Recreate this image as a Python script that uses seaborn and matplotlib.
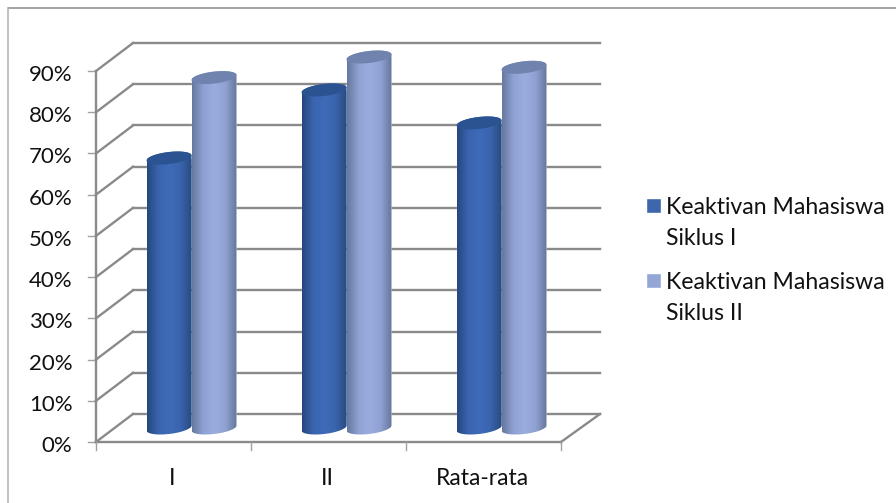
import matplotlib
matplotlib.use("Agg")
import matplotlib.pyplot as plt
import numpy as np
import pandas as pd
import seaborn as sns
from matplotlib.colors import LinearSegmentedColormap
from matplotlib.lines import Line2D
from matplotlib.patches import Polygon
from matplotlib.transforms import ScaledTranslation

# Student activity per cycle, in percent
categories = ["I", "II", "Rata-rata"]
series_names = ["Keaktivan Mahasiswa\nSiklus I", "Keaktivan Mahasiswa\nSiklus II"]
siklus_1 = [65.5, 82, 74]
siklus_2 = [85, 90, 87.5]
y_ticks = list(range(0, 100, 10))

GRID = "#8a8a8a"
TICK = "#a0a0a0"
TEXT = "#111111"
BAR_SHADES = [
    ["#25477f", "#3a64ad", "#3e6bb9", "#3a64ad", "#284a80"],
    ["#66789f", "#8ea2d2", "#9aacde", "#8fa2d2", "#66769c"],
]
TOP_SHADES = ["#2b5391", "#7083af"]
LEGEND_COLORS = ["#3e66ab", "#94a6d6"]

sns.set_theme(style="white")
plt.rcParams["font.family"] = ["Lato", "DejaVu Sans"]

W, H = 896, 503
fig = plt.figure(figsize=(W / 100, H / 100), dpi=100, facecolor="white")
# The axes sit on the mid-depth plane of the 3-D box
ax = fig.add_axes([114 / W, 1 - 428 / H, 465 / W, 371 / H])
ax.patch.set_visible(False)

df = pd.DataFrame({
    "kategori": categories * 2,
    "nilai": siklus_1 + siklus_2,
    "siklus": [series_names[0]] * 3 + [series_names[1]] * 3,
})
sns.barplot(data=df, x="kategori", y="nilai", hue="siklus", order=categories,
            hue_order=series_names, palette=LEGEND_COLORS, width=0.58, gap=0,
            saturation=1, dodge=True, ax=ax, zorder=3)

ax.set_xlim(-0.5, 2.5)
ax.set_ylim(0, 90)
ax.set_xlabel("")
ax.set_ylabel("")
for s in ax.spines.values():
    s.set_visible(False)

# Box geometry in data units: front and back edges around the mid-depth plane
px_x = 3 / 465
px_y = 90 / 371
dy = 14 * px_y
front_l, back_l = -0.5 - 18 * px_x, -0.5 + 19 * px_x
front_r, back_r = 2.5 - 18 * px_x, 2.5 + 21 * px_x


def box_line(xs, ys, lw=1.7, color=GRID):
    ax.plot(xs, ys, color=color, lw=lw, clip_on=False, zorder=1,
            solid_capstyle="projecting")


# Walls and floor
for v in y_ticks:
    box_line([front_l, back_l], [v - dy, v + dy])
    box_line([back_l, back_r], [v + dy, v + dy])
    box_line([front_l - 8 * px_x, front_l], [v - dy, v - dy], lw=1.0, color=TICK)
box_line([front_l, front_l], [-dy, 90 - dy])
box_line([front_l, front_r], [-dy, -dy])
box_line([front_r, back_r], [-dy, dy])
for i in range(4):
    xt = front_l + i * (front_r - front_l) / 3
    box_line([xt, xt], [-dy, -dy - 8 * px_y], lw=1.0, color=TICK)

# Real tick labels, shifted onto the front edge of the box
ax.set_xticks(range(3), categories)
ax.set_yticks(y_ticks, [f"{v}%" for v in y_ticks])
ax.tick_params(axis="both", length=0, labelcolor=TEXT)
ax.tick_params(axis="x", pad=28.5, labelsize=16.5)
ax.tick_params(axis="y", pad=30, labelsize=16)
for lab in ax.get_yticklabels():
    lab.set_transform(lab.get_transform() + ScaledTranslation(0, -16 / 100, fig.dpi_scale_trans))
for lab in ax.get_xticklabels():
    lab.set_transform(lab.get_transform() + ScaledTranslation(-19 / 100, 0, fig.dpi_scale_trans))

# Turn each flat bar into a shaded cylinder
semi_b = 6 * px_y
tilt = 2.5 * px_y
theta = np.linspace(0, 2 * np.pi, 121)
for s_idx, container in enumerate(ax.containers):
    cmap = LinearSegmentedColormap.from_list(f"cyl{s_idx}", BAR_SHADES[s_idx])
    for bar in container:
        left, width, height = bar.get_x(), bar.get_width(), bar.get_height()
        cx, a = left + width / 2, width / 2
        t_low = np.linspace(np.pi, 2 * np.pi, 60)
        t_up = np.linspace(0, np.pi, 60)
        bx = cx + a * np.cos(t_low)
        by = semi_b * np.sin(t_low) + tilt * np.cos(t_low)
        tx = cx + a * np.cos(t_up)
        ty = height + semi_b * np.sin(t_up) + tilt * np.cos(t_up)
        outline = Polygon(np.column_stack([np.r_[bx, tx], np.r_[by, ty]]),
                          closed=True, transform=ax.transData)
        bar.set_clip_path(outline)
        img = ax.imshow(np.linspace(0, 1, 128)[None, :], cmap=cmap, aspect="auto",
                        extent=(left, left + width, -3 * semi_b, height + 3 * semi_b),
                        zorder=3 + s_idx, interpolation="bilinear")
        img.set_clip_box(fig.bbox)
        img.set_clip_path(outline)
        cap = Polygon(np.column_stack([cx + a * np.cos(theta),
                                       height + semi_b * np.sin(theta) + tilt * np.cos(theta)]),
                      closed=True, facecolor=TOP_SHADES[s_idx], edgecolor="none",
                      zorder=3 + s_idx, clip_on=False)
        ax.add_patch(cap)
ax.set_xlim(-0.5, 2.5)
ax.set_ylim(0, 90)

# Legend beside the box, each swatch level with the first line of its label
leg = ax.legend(loc="upper left", bbox_to_anchor=(646 / W, 1 - 197 / H),
                bbox_transform=fig.transFigure, frameon=False, fontsize=16.6,
                handlelength=0.65, handleheight=0.65, handletextpad=0.2,
                labelspacing=0.97, borderpad=0, borderaxespad=0)
for t in leg.get_texts():
    t.set_color(TEXT)
    t.set_linespacing(1.6)
for h in leg.legend_handles:
    h.set_y(h.get_y() + 12.8)

# Chart frame: only its top and left edges are drawn
fig.add_artist(Line2D([8 / W, 1], [1 - 7.5 / H, 1 - 7.5 / H], color="#8c8c8c", lw=1.1))
fig.add_artist(Line2D([8 / W, 8 / W], [1 - 7.5 / H, 0], color="#b0b0b0", lw=1.1))

fig.savefig("out.png", dpi=100, facecolor="white")
